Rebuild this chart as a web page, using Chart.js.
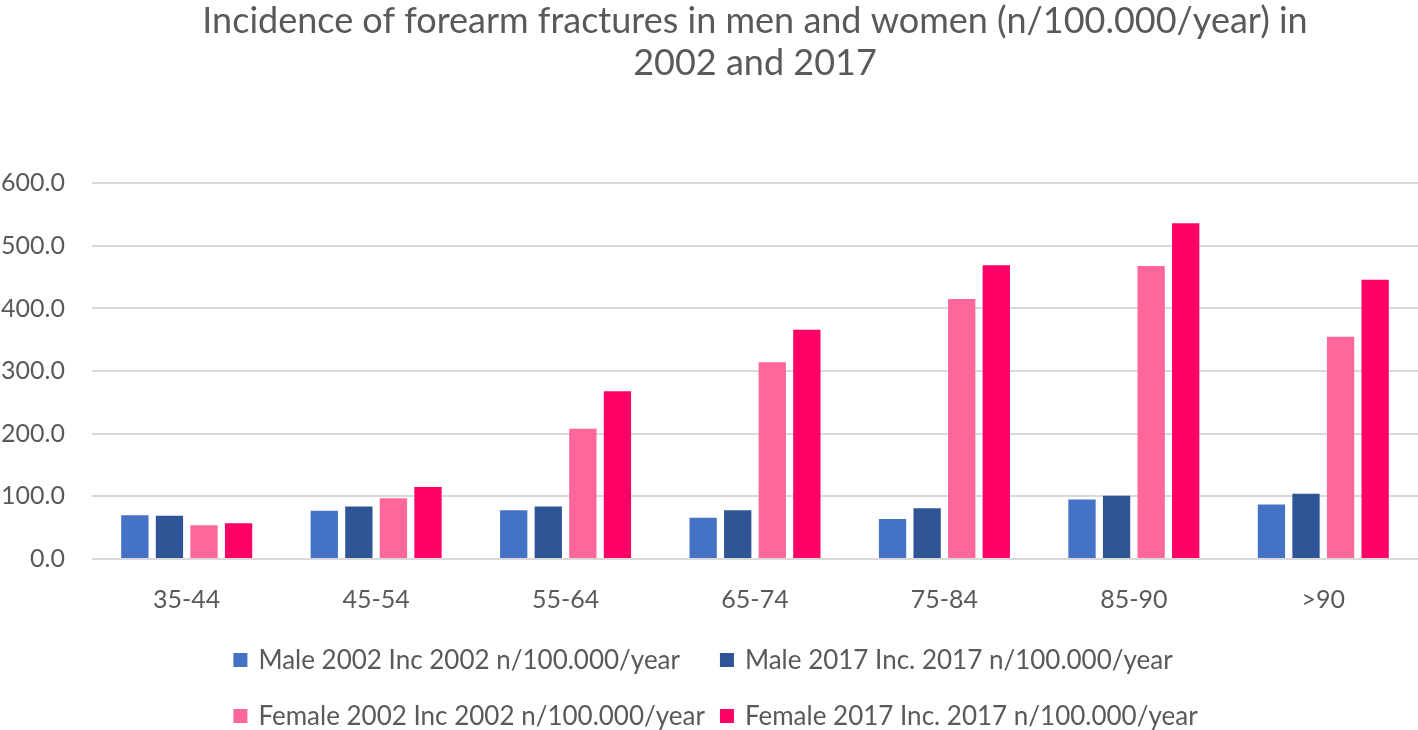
<!DOCTYPE html>
<html>
<head>
<meta charset="utf-8">
<script src="https://cdn.jsdelivr.net/npm/chart.js@4/dist/chart.umd.min.js"></script>
<style>
  html, body { margin: 0; padding: 0; background: #fff; }
  canvas { display: block; }
</style>
</head>
<body>
<canvas id="chart" width="1418" height="730"></canvas>
<script>
/* ================= DATA ================= */
const ageGroups = ["35-44", "45-54", "55-64", "65-74", "75-84", "85-90", ">90"];
const male2002 = [70, 77, 78, 66, 64, 95, 87];
const male2017 = [69, 84, 84, 78, 81, 101, 104];
const female2002 = [54, 97, 208, 314, 415, 468, 355];
const female2017 = [57, 115, 268, 366, 469, 536, 446];
const seriesNames = [
  "Male 2002 Inc 2002 n/100.000/year",
  "Male 2017 Inc. 2017 n/100.000/year",
  "Female 2002 Inc 2002 n/100.000/year",
  "Female 2017 Inc. 2017 n/100.000/year"
];
const titleLines = [
  "Incidence of forearm fractures in men and women (n/100.000/year) in",
  "2002 and 2017"
];

const textColor = "#595959";
const fontFamily = "Lato, 'Open Sans', sans-serif";

/* ================= LEGEND (2 columns, like Excel) ================= */
const gridLegend = {
  id: "gridLegend",
  afterDraw(chart) {
    const ctx = chart.ctx;
    const sets = chart.data.datasets;
    const box = 14, gap = 11, colGap = 15;
    const rowY = [660, 716];
    ctx.save();
    ctx.font = "26px " + fontFamily;
    ctx.textBaseline = "middle";
    ctx.fillStyle = textColor;
    const w = sets.map(d => box + gap + ctx.measureText(d.label).width);
    const col1 = Math.max(w[0], w[2]) + colGap;
    const col2 = Math.max(w[1], w[3]);
    const x0 = (chart.width - col1 - col2) / 2 + 6.5;
    sets.forEach((d, i) => {
      const x = x0 + (i % 2) * col1;
      const y = rowY[Math.floor(i / 2)];
      ctx.fillStyle = d.backgroundColor;
      ctx.fillRect(x, y - box / 2, box, box);
      ctx.fillStyle = textColor;
      ctx.fillText(d.label, x + box + gap, y + 1);
    });
    ctx.restore();
  }
};

/* ================= CHART ================= */
const colors = ["#4472C4", "#2F5597", "#FF6699", "#FF0066"];
const values = [male2002, male2017, female2002, female2017];

new Chart(document.getElementById("chart"), {
  type: "bar",
  data: {
    labels: ageGroups,
    datasets: values.map((v, i) => ({
      label: seriesNames[i],
      data: v,
      backgroundColor: colors[i],
      borderWidth: 0,
      categoryPercentage: 0.73,
      barPercentage: 0.79
    }))
  },
  options: {
    responsive: false,
    animation: false,
    layout: { padding: { left: 0, right: 0, top: 0, bottom: 89 } },
    plugins: {
      legend: { display: false },
      tooltip: { enabled: false },
      title: {
        display: true,
        fullSize: false,
        text: titleLines,
        color: textColor,
        font: { family: fontFamily, size: 36, weight: "normal", lineHeight: 1.17 },
        padding: { top: 0, bottom: 99 }
      }
    },
    scales: {
      x: {
        grid: { display: false, drawTicks: false },
        border: { display: false },
        ticks: { color: textColor, padding: 26, font: { family: fontFamily, size: 25 } }
      },
      y: {
        min: 0,
        max: 600,
        afterFit: s => { s.width = 92; },
        grid: { color: "#D9D9D9", lineWidth: 2, drawTicks: false },
        border: { display: false },
        ticks: {
          stepSize: 100,
          color: textColor,
          padding: 27,
          font: { family: fontFamily, size: 25 },
          callback: v => v.toFixed(1)
        }
      }
    }
  },
  plugins: [gridLegend]
});
</script>
</body>
</html>
